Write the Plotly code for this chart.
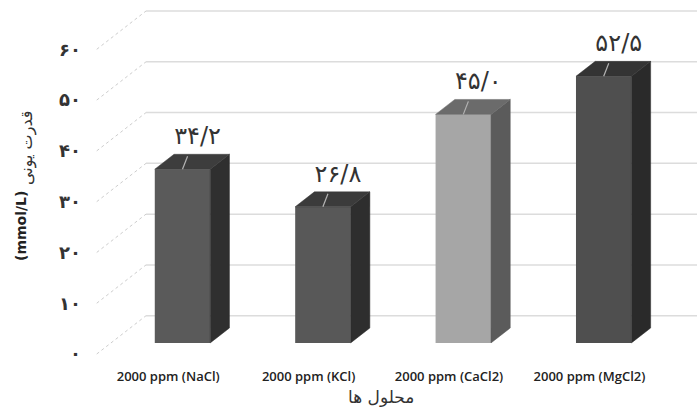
import plotly.graph_objects as go

# ---------------- data ----------------
categories = ["2000 ppm (NaCl)", "2000 ppm (KCl)", "2000 ppm (CaCl2)", "2000 ppm (MgCl2)"]
values = [34.2, 26.8, 45.0, 52.5]
value_labels = ["۳۴/۲", "۲۶/۸", "۴۵/۰", "۵۲/۵"]
y_ticks = [0, 10, 20, 30, 40, 50, 60]
y_tick_labels = ["۰", "۱۰", "۲۰", "۳۰", "۴۰", "۵۰", "۶۰"]
x_title = "محلول ها"
y_title_unit = "(mmol/L)"
y_title_fa = "قدرت یونی"

# ---------------- styles ----------------
front_colors = ["#5a5a5a", "#585858", "#a6a6a6", "#4f4f4f"]
top_colors = ["#3d3d3d", "#3b3b3b", "#6b6b6b", "#343434"]
side_colors = ["#2f2f2f", "#2e2e2e", "#5b5b5b", "#2a2a2a"]

# oblique 3D geometry (axis units)
WALL_DX = 0.351      # x shift from front of floor to back wall
WALL_DY = 7.54       # y shift from front of floor to back wall
FLOOR_LEFT = -0.611  # left edge of floor (front)
BAR_PLANE = 0.29     # depth fraction where bar fronts stand
BAR_DEPTH = 0.39     # depth fraction of bar thickness
BAR_W = 0.395
X_RANGE = [-1.2999, 3.6645]
LABEL_SHIFT = BAR_PLANE * WALL_DX  # category labels sit at the floor front

bar_base = BAR_PLANE * WALL_DY
bdx = BAR_DEPTH * WALL_DX
bdy = BAR_DEPTH * WALL_DY
xs = list(range(len(categories)))

fig = go.Figure()

# front faces
fig.add_trace(go.Bar(
    x=xs, y=values, base=bar_base, width=BAR_W,
    marker=dict(color=front_colors, line=dict(width=0)),
    showlegend=False, hoverinfo="skip",
))

# side and top faces
for i, v in enumerate(values):
    xl, xr = xs[i] - BAR_W / 2, xs[i] + BAR_W / 2
    top = bar_base + v
    fig.add_trace(go.Scatter(
        x=[xr, xr + bdx, xr + bdx, xr, xr],
        y=[bar_base, bar_base + bdy, top + bdy, top, bar_base],
        fill="toself", fillcolor=side_colors[i], mode="lines",
        line=dict(color=side_colors[i], width=0.5),
        showlegend=False, hoverinfo="skip"))
    fig.add_trace(go.Scatter(
        x=[xl, xl + bdx, xr + bdx, xr, xl],
        y=[top, top + bdy, top + bdy, top, top],
        fill="toself", fillcolor=top_colors[i], mode="lines",
        line=dict(color=top_colors[i], width=0.5),
        showlegend=False, hoverinfo="skip"))

# leader lines and value labels
lx, ly = [], []
for i, v in enumerate(values):
    top = bar_base + v
    lx += [xs[i], xs[i] + 0.036, None]
    ly += [top, top + 2.56, None]
fig.add_trace(go.Scatter(x=lx, y=ly, mode="lines",
                         line=dict(color="#b4b4b4", width=1.2),
                         showlegend=False, hoverinfo="skip"))
fig.add_trace(go.Scatter(
    x=[x + 0.107 for x in xs], y=[bar_base + v + 6.1 for v in values],
    text=value_labels, mode="text", textposition="middle center",
    textfont=dict(family="DejaVu Sans", size=24, color="#333333"),
    showlegend=False, hoverinfo="skip", cliponaxis=False))

# dummy for category axis
fig.add_trace(go.Scatter(x=xs, y=[None] * len(xs), xaxis="x2", yaxis="y",
                         mode="markers", showlegend=False, hoverinfo="skip"))

# gridlines (back wall + side diagonals)
shapes = []
for t in y_ticks:
    shapes.append(dict(type="line", xref="x", yref="y", layer="below",
                       x0=FLOOR_LEFT + WALL_DX, x1=3.8, y0=t + WALL_DY, y1=t + WALL_DY,
                       line=dict(color="#dcdcdc", width=1.5)))
    shapes.append(dict(type="line", xref="x", yref="y", layer="below",
                       x0=FLOOR_LEFT, x1=FLOOR_LEFT + WALL_DX, y0=t, y1=t + WALL_DY,
                       line=dict(color="#cdcdcd", width=1, dash="dot")))

W, H = 697, 412
fig.update_layout(
    width=W, height=H,
    margin=dict(l=0, r=0, t=0, b=0),
    paper_bgcolor="white", plot_bgcolor="white",
    shapes=shapes,
    xaxis=dict(range=X_RANGE, visible=False, domain=[0, 1]),
    xaxis2=dict(range=[X_RANGE[0] + LABEL_SHIFT, X_RANGE[1] + LABEL_SHIFT],
                overlaying="x", anchor="free", position=0.110,
                side="bottom", tickvals=xs, ticktext=categories,
                showgrid=False, zeroline=False, showline=False, ticks="",
                tickfont=dict(family="Open Sans", size=13, color="#222222", weight=600)),
    yaxis=dict(range=[-11.42, 69.71], domain=[0, 1], anchor="free", position=0.1162,
               tickvals=y_ticks, ticktext=y_tick_labels,
               showgrid=False, zeroline=False, showline=False, ticks="",
               tickfont=dict(family="DejaVu Sans", size=18, color="#333333", weight="bold")),
    annotations=[
        dict(text=x_title, xref="paper", yref="paper", x=381 / W, y=1 - 397 / H,
             xanchor="center", yanchor="middle",
             showarrow=False, font=dict(family="DejaVu Sans", size=17, color="#333333")),
        dict(text="<b>" + y_title_unit + "</b>",
             xref="paper", yref="paper", x=21 / W, y=1 - 226 / H, textangle=-90,
             xanchor="center", yanchor="middle",
             showarrow=False, font=dict(family="DejaVu Sans", size=14, color="#222222")),
        dict(text=y_title_fa,
             xref="paper", yref="paper", x=27 / W, y=1 - 148 / H, textangle=-90,
             xanchor="center", yanchor="middle",
             showarrow=False, font=dict(family="DejaVu Sans", size=16, color="#333333")),
    ],
)

fig.write_html("out.html")
